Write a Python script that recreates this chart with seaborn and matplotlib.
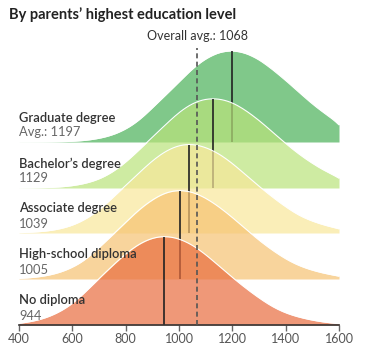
import numpy as np
import pandas as pd
import matplotlib.pyplot as plt
import seaborn as sns

# score grid (x) and relative curve heights
scores = list(range(400, 1601, 50))
groups = ["Graduate degree", "Bachelor’s degree", "Associate degree",
          "High-school diploma", "No diploma"]
avg_labels = ["Avg.: 1197", "1129", "1039", "1005", "944"]
means = [1197, 1129, 1039, 1005, 944]
overall_avg = 1068

graduate = [0.0005, 0.0005, 0.001, 0.002, 0.006, 0.016, 0.037, 0.072, 0.135, 0.23, 0.37, 0.51, 0.65,
            0.80, 0.91, 0.98, 1.0, 0.97, 0.90, 0.79, 0.67, 0.54, 0.41, 0.30, 0.21]
bachelor = [0.0005, 0.001, 0.004, 0.009, 0.023, 0.049, 0.093, 0.17, 0.28, 0.42, 0.56, 0.70, 0.84,
            0.94, 0.99, 0.99, 0.95, 0.86, 0.75, 0.62, 0.49, 0.37, 0.27, 0.18, 0.12]
associate = [0.003, 0.008, 0.018, 0.041, 0.08, 0.15, 0.25, 0.39, 0.53, 0.67, 0.81, 0.92, 0.985,
             1.0, 0.96, 0.89, 0.78, 0.65, 0.52, 0.40, 0.29, 0.19, 0.13, 0.08, 0.05]
highschool = [0.005, 0.014, 0.033, 0.066, 0.125, 0.21, 0.35, 0.49, 0.63, 0.78, 0.89, 0.975, 1.0,
              0.98, 0.91, 0.81, 0.69, 0.56, 0.43, 0.32, 0.22, 0.145, 0.095, 0.058, 0.032]
nodiploma = [0.017, 0.038, 0.075, 0.14, 0.23, 0.37, 0.52, 0.66, 0.80, 0.91, 0.98, 1.0, 0.97,
             0.90, 0.79, 0.66, 0.53, 0.41, 0.30, 0.20, 0.13, 0.085, 0.052, 0.028, 0.014]

colors = ["#80c88a", "#bae37b", "#f8e79a", "#f6c272", "#e96d3f"]
alphas = [1.0, 0.7, 0.7, 0.7, 0.7]

df = pd.DataFrame({
    "group": np.repeat(groups, len(scores)),
    "score": scores * len(groups),
    "weight": graduate + bachelor + associate + highschool + nodiploma,
})

sns.set_theme(style="white")
plt.rcParams["font.family"] = ["Lato", "DejaVu Sans"]

W, H = 367, 354
fig = plt.figure(figsize=(W / 100, H / 100), dpi=100)

baselines = [142, 188, 233, 279, 325]   # px from top
ax_h = 100                              # px
left, right = 19, 339

axes = []
for i, g in enumerate(groups):
    ax = fig.add_axes([left / W, (H - baselines[i]) / H, (right - left) / W, ax_h / H])
    ax.patch.set_alpha(0)
    sub = df[df.group == g]
    sns.kdeplot(data=sub, x="score", weights="weight", bw_method=0.17, clip=(400, 1600),
                fill=True, color=colors[i], alpha=alphas[i], linewidth=0, ax=ax)
    sns.kdeplot(data=sub, x="score", weights="weight", bw_method=0.17, clip=(400, 1600),
                color="white", linewidth=0.8, ax=ax)
    x, y = ax.lines[-1].get_data()
    ax.vlines(means[i], 0, np.interp(means[i], x, y), color="#222222", lw=1.2)
    axes.append(ax)

peak = max(ax.lines[-1].get_ydata().max() for ax in axes)
for ax in axes:
    ax.set_xlim(400, 1600)
    ax.set_ylim(0, peak * ax_h / 91)
    ax.set_xlabel("")
    ax.set_ylabel("")
    ax.set_yticks([])
    sns.despine(ax=ax, left=True, bottom=True)
    ax.set_xticks([])

bottom = axes[-1]
bottom.spines["bottom"].set_visible(True)
bottom.spines["bottom"].set_color("#333333")
bottom.spines["bottom"].set_linewidth(1.2)
bottom.set_xticks(range(400, 1601, 200))
bottom.tick_params(axis="x", bottom=True, length=4, width=1, color="#666666",
                   labelsize=9, labelcolor="#555555", pad=2)

# overall average dashed line
bottom.axvline(overall_avg, ymin=0, ymax=(325 - 48) / ax_h, color="#555555", lw=1.2,
               ls=(0, (3, 2)), clip_on=False, zorder=10)
fig.text(197.5 / W, 1 - 36 / H, f"Overall avg.: {overall_avg}", ha="center", va="center",
         fontsize=9, color="#333333")

for i, g in enumerate(groups):
    yb = baselines[i]
    fig.text(left / W, 1 - (yb - 24.5) / H, g, ha="left", va="center",
             fontsize=9.3, color="#333333", fontweight="semibold")
    fig.text(left / W, 1 - (yb - 9.5) / H, avg_labels[i], ha="left", va="center",
             fontsize=9.3, color="#666666")

fig.text(9 / W, 1 - 15 / H, "By parents’ highest education level", ha="left", va="center",
         fontsize=10.5, color="#222222", fontweight="bold")

fig.savefig("out.png", dpi=100)
